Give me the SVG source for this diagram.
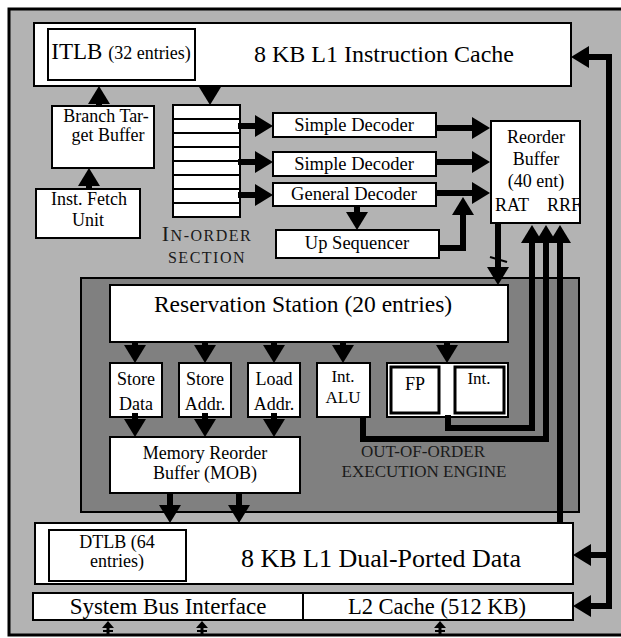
<svg xmlns="http://www.w3.org/2000/svg" width="621" height="638" viewBox="0 0 621 638">
<style>
.box{fill:#fff;stroke:#000;stroke-width:2}
.tb{fill:#fff;stroke:#000;stroke-width:3}
.t{font-family:'Liberation Serif','DejaVu Serif','Times New Roman',serif;fill:#000;text-anchor:middle}
.lbl{fill:#1a1a1a}
.a{fill:none;stroke:#000;stroke-width:6;marker-end:url(#ah)}
.w{fill:none;stroke:#000;stroke-width:6}
</style>
<defs>
<marker id="ah" markerUnits="userSpaceOnUse" markerWidth="20" markerHeight="22" refX="2" refY="11" orient="auto" overflow="visible">
<path d="M0,0 L18,11 L0,22 Z" fill="#000"/>
</marker>
<clipPath id="robclip"><rect x="491" y="121" width="89" height="102"/></clipPath>
</defs>
<rect x="9" y="9" width="620" height="626" fill="#b3b3b3" stroke="#000" stroke-width="3"/>
<g id="exec-engine">
<rect x="81" y="278" width="498" height="234" fill="#808080" stroke="#000" stroke-width="2"/>
<text class="t lbl" x="423" y="457" font-size="17">OUT-OF-ORDER</text>
<text class="t lbl" x="424" y="477" font-size="17">EXECUTION ENGINE</text>
</g>
<g id="icache">
<rect class="box" x="34" y="23" width="537" height="63"/>
<text class="t" x="384" y="62" font-size="24">8 KB L1 Instruction Cache</text>
</g>
<g id="itlb">
<rect class="box" x="48" y="29" width="147" height="51"/>
<text class="t" x="121" y="59"><tspan font-size="23">ITLB </tspan><tspan font-size="18">(32 entries)</tspan></text>
</g>
<g id="btb">
<rect class="box" x="52" y="106" width="102" height="62"/>
<text class="t" x="106" y="122" font-size="18">Branch Tar-</text>
<text class="t" x="108" y="141" font-size="18">get Buffer</text>
</g>
<g id="ifu">
<rect class="box" x="36" y="189" width="104" height="49"/>
<text class="t" x="89" y="205" font-size="18">Inst. Fetch</text>
<text class="t" x="88" y="226" font-size="18">Unit</text>
</g>
<g id="inst-queue">
<rect class="box" x="173" y="105" width="67" height="112"/>
<path d="M173,119H240M173,133H240M173,147H240M173,161H240M173,175H240M173,189H240M173,203H240" stroke="#000" stroke-width="2"/>
</g>
<g id="inorder-label">
<text class="t lbl" x="207" y="241" letter-spacing="1.5"><tspan font-size="22">I</tspan><tspan font-size="16">N-ORDER</tspan></text>
<text class="t lbl" x="207" y="263" font-size="16" letter-spacing="1.5">SECTION</text>
</g>
<g id="simple-decoder-1">
<rect class="box" x="273" y="113" width="163" height="24"/>
<text class="t" x="354" y="131" font-size="18.5">Simple Decoder</text>
</g>
<g id="simple-decoder-2">
<rect class="box" x="273" y="152" width="163" height="24"/>
<text class="t" x="354" y="170" font-size="18.5">Simple Decoder</text>
</g>
<g id="general-decoder">
<rect class="box" x="273" y="183" width="163" height="23"/>
<text class="t" x="354" y="200" font-size="18.5">General Decoder</text>
</g>
<g id="up-sequencer">
<rect class="box" x="276" y="230" width="163" height="28"/>
<text class="t" x="357" y="249" font-size="18.5">Up Sequencer</text>
</g>
<g id="rob">
<rect class="box" x="491" y="121" width="89" height="102"/>
<text class="t" x="536" y="143" font-size="18">Reorder</text>
<text class="t" x="536" y="165" font-size="18">Buffer</text>
<text class="t" x="536" y="187" font-size="18">(40 ent)</text>
<text class="t" x="512" y="211" font-size="18">RAT</text>
<text class="t" x="564" y="211" font-size="18" clip-path="url(#robclip)">RRF</text>
</g>
<g id="reservation-station">
<rect class="box" x="110" y="285" width="398" height="57"/>
<text class="t" x="303" y="312" font-size="23.5">Reservation Station (20 entries)</text>
</g>
<g id="store-data">
<rect class="box" x="110" y="363" width="52" height="54"/>
<text class="t" x="136" y="385" font-size="18">Store</text>
<text class="t" x="136" y="410" font-size="18">Data</text>
</g>
<g id="store-addr">
<rect class="box" x="179" y="363" width="52" height="54"/>
<text class="t" x="205" y="385" font-size="18">Store</text>
<text class="t" x="205" y="410" font-size="18">Addr.</text>
</g>
<g id="load-addr">
<rect class="box" x="248" y="363" width="52" height="54"/>
<text class="t" x="274" y="385" font-size="18">Load</text>
<text class="t" x="274" y="410" font-size="18">Addr.</text>
</g>
<g id="int-alu">
<rect class="box" x="317" y="363" width="53" height="54"/>
<text class="t" x="343" y="382" font-size="17">Int.</text>
<text class="t" x="343" y="403" font-size="17">ALU</text>
</g>
<g id="fp-int">
<rect class="box" x="387" y="363" width="121" height="54"/>
<rect class="tb" x="391" y="367" width="48" height="46"/>
<rect class="tb" x="455" y="367" width="49" height="46"/>
<text class="t" x="415" y="390" font-size="18">FP</text>
<text class="t" x="479" y="384" font-size="17">Int.</text>
</g>
<g id="mob">
<rect class="box" x="110" y="437" width="190" height="56"/>
<text class="t" x="205" y="459" font-size="18">Memory Reorder</text>
<text class="t" x="205" y="479" font-size="18">Buffer (MOB)</text>
</g>
<g id="dcache">
<rect class="box" x="35" y="523" width="538" height="61"/>
<text class="t" x="381" y="567" font-size="26">8 KB L1 Dual-Ported Data</text>
</g>
<g id="dtlb">
<rect class="box" x="49" y="530" width="137" height="51"/>
<text class="t" x="117" y="548" font-size="18">DTLB (64</text>
<text class="t" x="117" y="567" font-size="18">entries)</text>
</g>
<g id="system-bus">
<rect class="box" x="33" y="593" width="270" height="27"/>
<text class="t" x="168" y="614" font-size="23">System Bus Interface</text>
</g>
<g id="l2-cache">
<rect class="box" x="303" y="593" width="270" height="27"/>
<text class="t" x="437" y="614" font-size="22.5">L2 Cache (512 KB)</text>
</g>
<g id="connectors">
<path class="a" d="M99,106V102"/>
<path class="a" d="M89,189V184"/>
<path class="a" d="M210,86V89"/>
<path class="a" d="M238,126H257"/>
<path class="a" d="M238,162H257"/>
<path class="a" d="M238,195H257"/>
<path class="a" d="M436,128H474"/>
<path class="a" d="M436,162H474"/>
<path class="a" d="M436,193H474"/>
<path class="a" d="M357,206V214"/>
<path class="a" d="M439,248H463V213"/>
<path class="a" d="M498,223V269"/>
<path d="M490,257L507,262" stroke="#000" stroke-width="2"/>
<path class="a" d="M135,342V347"/>
<path class="a" d="M205,342V347"/>
<path class="a" d="M274,342V347"/>
<path class="a" d="M343,342V347"/>
<path class="a" d="M447,342V347"/>
<path class="a" d="M135,413V421"/>
<path class="a" d="M205,413V421"/>
<path class="a" d="M274,413V421"/>
<path class="a" d="M170,493V507"/>
<path class="a" d="M239,493V507"/>
<path class="a" d="M448,415V428H532V241"/>
<path class="a" d="M363,417V439H546V241"/>
<path class="a" d="M560,523V241"/>
<path class="w" d="M609,57V606"/>
<path class="a" d="M612,57H587"/>
<path class="a" d="M612,555H589"/>
<path class="a" d="M612,606H589"/>
<g fill="#000" stroke="#000">
<path d="M108,621L102,628H114Z" stroke="none"/><path d="M108,628V635" stroke-width="3"/><path d="M103,631H113" stroke-width="2"/>
<path d="M202,621L196,628H208Z" stroke="none"/><path d="M202,628V635" stroke-width="3"/><path d="M197,631H207" stroke-width="2"/>
<path d="M440,621L434,628H446Z" stroke="none"/><path d="M440,628V635" stroke-width="3"/><path d="M435,631H445" stroke-width="2"/>
</g>
</g>
</svg>
